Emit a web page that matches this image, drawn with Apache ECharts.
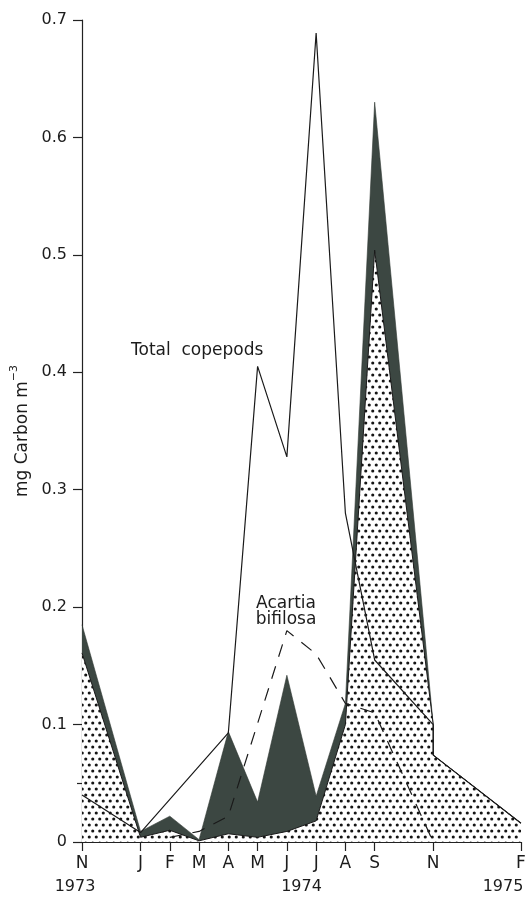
<!DOCTYPE html>
<html><head><meta charset="utf-8">
<script src="https://cdn.jsdelivr.net/npm/echarts@6/dist/echarts.min.js"></script>
<style>html,body{margin:0;padding:0;background:#fff}#c{width:530px;height:898px}</style>
</head><body><div id="c"></div>
<script>
// ---- axis labels ----
const monthLetters = ['N','D','J','F','M','A','M','J','J','A','S','O','N','D','J','F']; // months since Nov 1973
const labeledMonths = [0,2,3,4,5,6,7,8,9,10,12,15];
const unlabeledMonths = [1,11,13,14];
const yearLabels = ['1973','1974','1975'];
const yearPositions = [0,7.5,15];
const yMinorTicks = [0.05];

// ---- data (x = months since November 1973) ----
const areaMonths   = [0,     2,     3,     4,     5,     6,     7,     8,     9,     10,    12,    12,    15];
const dottedValues = [0.161, 0.004, 0.010, 0.001, 0.007, 0.004, 0.009, 0.018, 0.100, 0.504, 0.100, 0.074, 0.016];
const darkValues   = [0.024, 0.005, 0.012, 0.001, 0.087, 0.030, 0.133, 0.021, 0.018, 0.126, 0.000, 0.000, 0.000];

const totalMonths  = [0,     2,     5,     6,     7,     8,     9,     10,    12,    12,    15];
const totalValues  = [0.040, 0.008, 0.093, 0.405, 0.328, 0.689, 0.280, 0.155, 0.100, 0.074, 0.016];

const acartiaMonths = [3,     4,     5,     7,     8,     9,     10,    12];
const acartiaValues = [0.004, 0.009, 0.022, 0.180, 0.160, 0.118, 0.110, 0.000];

// ---- build ----
const FONT = "'DejaVu Sans', sans-serif";
const TXT = '#1c1c1c';
const zip = (xs, ys) => xs.map((x, i) => [x, ys[i]]);
const darkTop = dottedValues.map((v, i) => v + darkValues[i]);

function dotPattern() {
  const c = document.createElement('canvas');
  c.width = 7; c.height = 12;
  const g = c.getContext('2d');
  g.fillStyle = '#fff'; g.fillRect(0, 0, 7, 12);
  g.fillStyle = '#151515';
  [[1.75, 3], [5.25, 9]].forEach(([x, y]) => { g.beginPath(); g.arc(x, y, 1.55, 0, Math.PI * 2); g.fill(); });
  return c;
}

const chart = echarts.init(document.getElementById('c'), null, {renderer: 'canvas'});
chart.setOption({
  backgroundColor: '#fff',
  animation: false,
  grid: {left: 82, right: 9, top: 20, bottom: 56, containLabel: false},
  xAxis: [
    {
      type: 'value', min: 0, max: 15,
      axisLine: {lineStyle: {color: '#222', width: 1.2}},
      splitLine: {show: false},
      axisTick: {customValues: labeledMonths, length: 9, lineStyle: {color: '#222', width: 1.2}},
      axisLabel: {customValues: labeledMonths, margin: 13, color: TXT, fontSize: 17, fontFamily: FONT,
        formatter: v => monthLetters[Math.round(v)]}
    },
    {
      type: 'value', min: 0, max: 15, position: 'bottom',
      axisLine: {show: false}, splitLine: {show: false},
      axisTick: {show: true, inside: true, customValues: unlabeledMonths, length: 6, lineStyle: {color: '#222', width: 1.2}},
      axisLabel: {show: false}
    },
    {
      type: 'value', min: 0, max: 15, position: 'bottom',
      axisLine: {show: false}, splitLine: {show: false}, axisTick: {show: false},
      axisLabel: {customValues: yearPositions, margin: 37, color: TXT, fontSize: 16, fontFamily: FONT,
        formatter: v => {
          const i = yearPositions.indexOf(v);
          return i === 0 ? '{l|' + yearLabels[i] + '}' : i === 2 ? '{r|' + yearLabels[i] + '}' : yearLabels[i];
        },
        rich: {
          l: {fontSize: 16, fontFamily: FONT, color: TXT, padding: [0, 14, 0, 0]},
          r: {fontSize: 16, fontFamily: FONT, color: TXT, padding: [0, 36, 0, 0]}
        }}
    }
  ],
  yAxis: [
    {
      type: 'value', min: 0, max: 0.7, interval: 0.1,
      axisLine: {show: true, lineStyle: {color: '#222', width: 1.2}},
      splitLine: {show: false},
      axisTick: {show: true, length: 9, lineStyle: {color: '#222', width: 1.2}},
      axisLabel: {margin: 15, color: TXT, fontSize: 16, fontFamily: FONT,
        formatter: v => v === 0 ? '0' : v.toFixed(1)},
      name: '{a|mg Carbon m}{b|−3}',
      nameLocation: 'middle', nameGap: 49, nameRotate: 90,
      nameTextStyle: {color: TXT, fontFamily: FONT, rich: {
        a: {fontSize: 17, fontFamily: FONT, color: TXT, lineHeight: 22, verticalAlign: 'bottom'},
        b: {fontSize: 11, fontFamily: FONT, color: TXT, lineHeight: 22, verticalAlign: 'top'}
      }}
    },
    {
      type: 'value', min: 0, max: 0.7, position: 'left',
      axisLine: {show: false}, splitLine: {show: false}, axisLabel: {show: false},
      axisTick: {show: true, customValues: yMinorTicks, length: 5, lineStyle: {color: '#222', width: 1.2}}
    }
  ],
  series: [
    {
      name: 'dark group', type: 'line', z: 1, symbol: 'none',
      data: zip(areaMonths, darkTop),
      lineStyle: {width: 0.6, color: '#2f3833'},
      areaStyle: {color: '#3c4742', opacity: 1}
    },
    {
      name: 'dotted group', type: 'line', z: 2, symbol: 'none',
      data: zip(areaMonths, dottedValues),
      lineStyle: {width: 1, color: '#1a1a1a'},
      areaStyle: {color: {image: dotPattern(), repeat: 'repeat'}, opacity: 1}
    },
    {
      name: 'Total copepods', type: 'line', z: 3, symbol: 'none',
      data: zip(totalMonths, totalValues),
      lineStyle: {width: 1.2, color: '#1a1a1a'}
    },
    {
      name: 'Acartia bifilosa', type: 'line', z: 3, symbol: 'none',
      data: zip(acartiaMonths, acartiaValues),
      lineStyle: {width: 1.2, color: '#1a1a1a', type: [13, 10]}
    }
  ],
  graphic: [
    {type: 'text', z: 10, style: {text: 'Total  copepods', x: 131, y: 351, verticalAlign: 'middle', fill: TXT, font: '17px ' + FONT}},
    {type: 'text', z: 10, style: {text: 'Acartia\nbifilosa', x: 286, y: 596, align: 'center', verticalAlign: 'top', lineHeight: 16, fill: TXT, font: '17px ' + FONT}}
  ]
});
</script>
</body></html>
